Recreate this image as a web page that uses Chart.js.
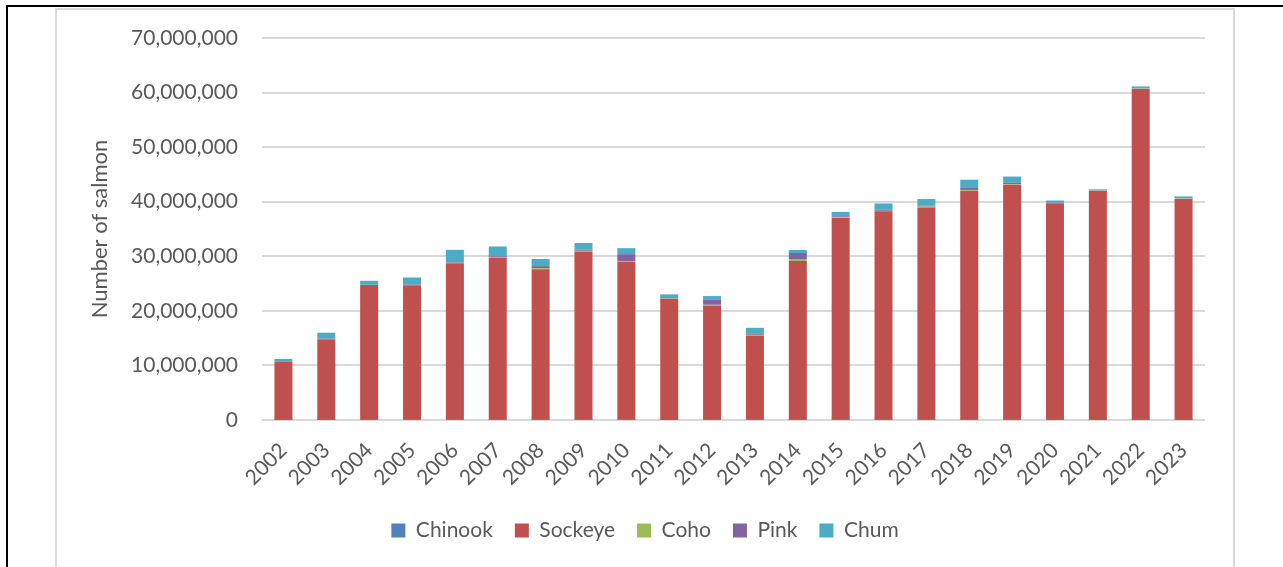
<!DOCTYPE html>
<html>
<head>
<meta charset="utf-8">
<script src="https://cdn.jsdelivr.net/npm/chart.js@4/dist/chart.umd.min.js"></script>
<style>
  html, body { margin: 0; padding: 0; background: #ffffff; }
  body { width: 1283px; height: 567px; position: relative; overflow: hidden; }
  .frame-outer-top { position: absolute; left: 6px; top: 5px; width: 1277px; height: 2px; background: #000; }
  .frame-outer-left { position: absolute; left: 6px; top: 5px; width: 2px; height: 562px; background: #000; }
  .frame-inner { position: absolute; left: 55px; top: 8px; width: 1176px; height: 600px; border: 2px solid #d9d9d9; }
  #wrap { position: absolute; left: 0; top: 0; width: 1283px; height: 567px; }
</style>
</head>
<body>
<div class="frame-outer-top"></div>
<div class="frame-outer-left"></div>
<div class="frame-inner"></div>
<div id="wrap"><canvas id="chart" width="1283" height="567"></canvas></div>
<script>
// Salmon returns by species, 2002–2023
const years = ['2002','2003','2004','2005','2006','2007','2008','2009','2010','2011','2012',
               '2013','2014','2015','2016','2017','2018','2019','2020','2021','2022','2023'];

const chinook = [20000, 20000, 30000, 30000, 30000, 30000, 30000, 30000, 30000, 20000, 30000,
                 30000, 30000, 30000, 30000, 30000, 30000, 30000, 20000, 20000, 20000, 20000];

const sockeye = [10600000, 14800000, 24700000, 24650000, 28700000, 29700000, 27600000, 30800000, 28900000, 22200000, 20900000,
                 15400000, 29100000, 37000000, 38200000, 38900000, 41950000, 43100000, 39700000, 41950000, 60650000, 40500000];

const coho = [20000, 30000, 30000, 30000, 50000, 120000, 200000, 180000, 180000, 50000, 180000,
              180000, 370000, 100000, 100000, 180000, 180000, 80000, 50000, 50000, 50000, 50000];

const pink = [0, 50000, 0, 100000, 100000, 150000, 370000, 180000, 1280000, 50000, 900000,
              180000, 1100000, 200000, 250000, 180000, 370000, 250000, 50000, 50000, 50000, 50000];

const chum = [550000, 1100000, 750000, 1300000, 2300000, 1800000, 1300000, 1250000, 1100000, 700000, 700000,
              1100000, 550000, 800000, 1100000, 1200000, 1500000, 1150000, 400000, 200000, 350000, 350000];

const yTicks = [0, 10000000, 20000000, 30000000, 40000000, 50000000, 60000000, 70000000];

const textColor = '#595959';
const gridColor = '#d9d9d9';
const fontFamily = 'Lato, "Open Sans", sans-serif';

const series = [
  { label: 'Chinook', data: chinook, color: '#4f81bd' },
  { label: 'Sockeye', data: sockeye, color: '#c0504d' },
  { label: 'Coho',    data: coho,    color: '#9bbb59' },
  { label: 'Pink',    data: pink,    color: '#8064a2' },
  { label: 'Chum',    data: chum,    color: '#4bacc6' }
];

new Chart(document.getElementById('chart'), {
  type: 'bar',
  data: {
    labels: years,
    datasets: series.map(s => ({
      label: s.label,
      data: s.data,
      backgroundColor: s.color,
      borderWidth: 0,
      categoryPercentage: 1,
      barPercentage: 0.42
    }))
  },
  options: {
    responsive: false,
    animation: false,
    layout: { padding: { left: 85, top: 38, right: 78, bottom: 16 } },
    plugins: {
      tooltip: { enabled: false },
      legend: {
        position: 'bottom',
        labels: {
          color: textColor,
          font: { family: fontFamily, size: 21 },
          boxWidth: 14,
          boxHeight: 14,
          padding: 22
        }
      }
    },
    scales: {
      x: {
        stacked: true,
        grid: { display: false },
        border: { display: false },
        ticks: {
          color: textColor,
          font: { family: fontFamily, size: 21 },
          minRotation: 45,
          maxRotation: 45,
          padding: 10
        },
        afterFit: (scale) => { scale.height = 78; }
      },
      y: {
        stacked: true,
        min: 0,
        max: 70000000,
        afterBuildTicks: (scale) => { scale.ticks = yTicks.map(v => ({ value: v })); },
        grid: { color: gridColor, lineWidth: 2, drawTicks: false },
        border: { display: false },
        ticks: {
          color: textColor,
          font: { family: fontFamily, size: 21 },
          padding: 24,
          callback: (v) => Number(v).toLocaleString('en-US')
        },
        title: {
          display: true,
          text: 'Number of salmon',
          color: textColor,
          font: { family: fontFamily, size: 22 },
          padding: { top: 2, bottom: 0 }
        },
        afterFit: (scale) => { scale.width = 177; }
      }
    }
  }
});
</script>
</body>
</html>
